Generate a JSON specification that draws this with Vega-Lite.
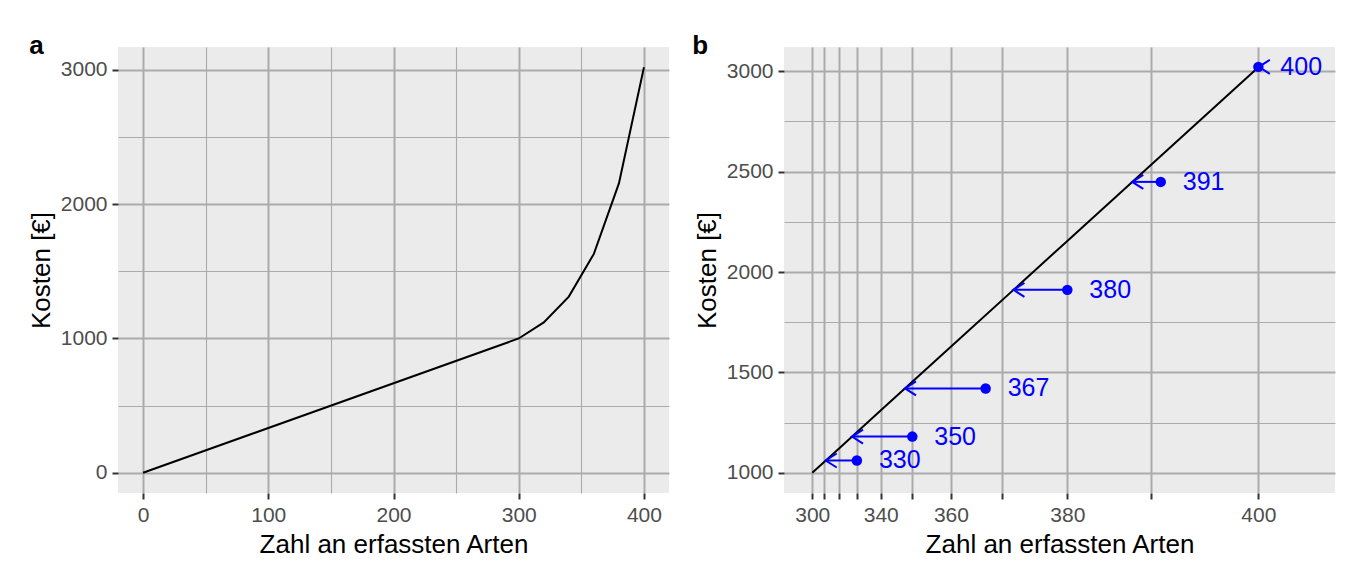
{
  "$schema": "https://vega.github.io/schema/vega-lite/v6.json",
  "background": "white",
  "padding": {"left": 28, "top": 33, "right": 5, "bottom": 5},
  "spacing": 23,
  "datasets": {
    "kurve": [
      {"arten": 0, "kosten": 0},
      {"arten": 300, "kosten": 1000},
      {"arten": 320, "kosten": 1120},
      {"arten": 340, "kosten": 1312},
      {"arten": 360, "kosten": 1630},
      {"arten": 380, "kosten": 2155},
      {"arten": 400, "kosten": 3020}
    ],
    "pfeile": [
      {"arten": "330", "punkt": 1202, "kosten": 1061},
      {"arten": "350", "punkt": 1453, "kosten": 1180},
      {"arten": "367", "punkt": 1785, "kosten": 1420},
      {"arten": "380", "punkt": 2155, "kosten": 1911},
      {"arten": "391", "punkt": 2578, "kosten": 2449},
      {"arten": "400", "punkt": 3020, "kosten": 3022}
    ]
  },
  "config": {
    "font": "Liberation Sans",
    "view": {"fill": "#EBEBEB", "stroke": null},
    "axis": {
      "domain": false,
      "gridColor": "#ABABAB",
      "tickColor": "#333333",
      "tickWidth": 2,
      "tickSize": 6,
      "labelColor": "#4D4D4D",
      "labelFontSize": 21,
      "labelFont": "Liberation Sans",
      "titleFont": "Liberation Sans",
      "titleFontSize": 26,
      "titleFontWeight": "normal",
      "titleColor": "black",
      "labelPadding": 5,
      "titlePadding": 6,
      "labelOverlap": false,
      "labelFlush": false,
      "format": "d"
    },
    "title": {"font": "Liberation Sans", "fontSize": 26, "fontWeight": "bold", "anchor": "start", "frame": "bounds", "color": "black", "baseline": "alphabetic", "offset": -12}
  },
  "hconcat": [
    {
      "width": 551,
      "height": 446,
      "title": {"text": "a", "dx": 1},
      "data": {"name": "kurve"},
      "mark": {"type": "line", "color": "black", "strokeWidth": 2},
      "encoding": {
        "x": {
          "field": "arten", "type": "quantitative",
          "scale": {"domain": [-20, 420], "nice": false, "zero": false},
          "axis": {
            "title": "Zahl an erfassten Arten",
            "values": [0, 50, 100, 150, 200, 250, 300, 350, 400],
            "labelExpr": "datum.value % 100 === 0 ? datum.label : ''",
            "gridWidth": {"condition": {"test": "datum.value % 100 === 0", "value": 2}, "value": 1.1},
            "tickOpacity": {"condition": {"test": "datum.value % 100 === 0", "value": 1}, "value": 0}
          }
        },
        "y": {
          "field": "kosten", "type": "quantitative",
          "scale": {"domain": [-151, 3171], "nice": false, "zero": false},
          "axis": {
            "title": "Kosten [€]",
            "values": [0, 500, 1000, 1500, 2000, 2500, 3000],
            "labelExpr": "datum.value % 1000 === 0 ? datum.label : ''",
            "gridWidth": {"condition": {"test": "datum.value % 1000 === 0", "value": 2}, "value": 1.1},
            "tickOpacity": {"condition": {"test": "datum.value % 1000 === 0", "value": 1}, "value": 0}
          }
        }
      }
    },
    {
      "width": 551,
      "height": 446,
      "title": {"text": "b", "dx": -2},
      "layer": [
        {
          "data": {"name": "kurve"},
          "transform": [{"filter": "datum.arten >= 300"}],
          "mark": {"type": "line", "color": "black", "strokeWidth": 2},
          "encoding": {
            "x": {
              "field": "kosten", "type": "quantitative",
              "scale": {"domain": [872, 3367], "nice": false, "zero": false},
              "axis": {
                "title": "Zahl an erfassten Arten",
                "values": [1000, 1053, 1120, 1202, 1310, 1453, 1628, 1860, 2155, 2534, 3020],
                "labelExpr": "datum.value === 1000 ? '300' : datum.value === 1310 ? '340' : datum.value === 1628 ? '360' : datum.value === 2155 ? '380' : datum.value === 3020 ? '400' : ''",
                "gridWidth": 2
              }
            },
            "y": {
              "field": "kosten", "type": "quantitative",
              "scale": {"domain": [899, 3121], "nice": false, "zero": false},
              "axis": {
                "title": "Kosten [€]",
                "values": [1000, 1250, 1500, 1750, 2000, 2250, 2500, 2750, 3000],
                "labelExpr": "datum.value % 500 === 0 ? datum.label : ''",
                "gridWidth": {"condition": {"test": "datum.value % 500 === 0", "value": 2}, "value": 1.1},
                "tickOpacity": {"condition": {"test": "datum.value % 500 === 0", "value": 1}, "value": 0}
              }
            }
          }
        },
        {
          "data": {"name": "pfeile"},
          "mark": {"type": "rule", "color": "#0000FF", "strokeWidth": 2},
          "encoding": {
            "x": {"field": "punkt", "type": "quantitative"},
            "x2": {"field": "kosten"},
            "y": {"field": "kosten", "type": "quantitative"}
          }
        },
        {
          "data": {"name": "pfeile"},
          "mark": {"type": "point", "shape": "M2.75,-1.75L0,0L2.75,1.75", "filled": false, "stroke": "#0000FF", "strokeWidth": 2, "size": 64, "opacity": 1},
          "encoding": {
            "x": {"field": "kosten", "type": "quantitative"},
            "y": {"field": "kosten", "type": "quantitative"}
          }
        },
        {
          "data": {"name": "pfeile"},
          "mark": {"type": "circle", "color": "#0000FF", "size": 110, "opacity": 1},
          "encoding": {
            "x": {"field": "punkt", "type": "quantitative"},
            "y": {"field": "kosten", "type": "quantitative"}
          }
        },
        {
          "data": {"name": "pfeile"},
          "mark": {"type": "text", "color": "#0000FF", "fontSize": 25, "align": "left", "baseline": "middle", "dx": 22, "font": "Liberation Sans"},
          "encoding": {
            "x": {"field": "punkt", "type": "quantitative"},
            "y": {"field": "kosten", "type": "quantitative"},
            "text": {"field": "arten", "type": "nominal"}
          }
        }
      ]
    }
  ]
}
